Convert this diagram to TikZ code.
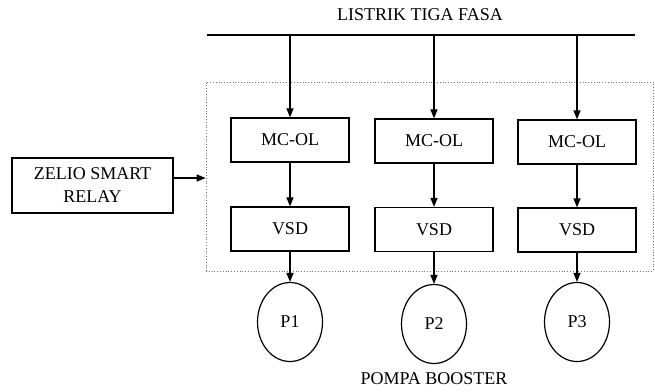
\documentclass[tikz,border=0pt]{standalone}
\usepackage{fontspec}
\setmainfont{Liberation Serif}
\usetikzlibrary{arrows.meta,shapes.geometric}
\newcommand\diagfont{\rmfamily\fontsize{18}{20}\selectfont}
\begin{document}
\begin{tikzpicture}[x=1pt,y=-1pt,
  lbl/.style={font=\diagfont, inner sep=0pt},
  blockbox/.style={draw, line width=1.3pt, minimum width=118pt, minimum height=44pt,
    font=\diagfont, inner sep=0pt, align=center},
  pump/.style={draw, ellipse, line width=1.2pt, minimum width=65pt, minimum height=79pt,
    font=\diagfont, inner sep=0pt},
  flow/.style={-{Triangle[length=9pt,width=7pt]}, line width=1.3pt},
  panelbox/.style={draw=black!55, dotted, line width=0.8pt, minimum width=447pt,
    minimum height=189pt, inner sep=0pt}]
\useasboundingbox (0,0) rectangle (655,391);

% three-phase supply bus
\node[lbl] (title) at (420,15) {LISTRIK TIGA FASA};
\coordinate (busL) at (207,35);
\coordinate (busR) at (635,35);
\draw[line width=1.5pt] (busL) -- (busR);

% control panel enclosure
\node[panelbox] (panel) at (429.5,176.5) {};

% starters and drives
\node[blockbox] (mc1) at (290,140) {MC-OL};
\node[blockbox] (mc2) at (434,141) {MC-OL};
\node[blockbox] (mc3) at (577,142) {MC-OL};
\node[blockbox] (vsd1) at (290,229) {VSD};
\node[blockbox] (vsd2) at (434,229.5) {VSD};
\node[blockbox] (vsd3) at (577,230) {VSD};

% pumps
\node[pump] (p1) at (290,322) {P1};
\node[pump] (p2) at (434,324) {P2};
\node[pump] (p3) at (577,322) {P3};
\node[lbl] (booster) at (434,379) {POMPA BOOSTER};

% controller
\node[blockbox, minimum width=161pt, minimum height=55pt] (zelio) at (92.5,185.5)
  {ZELIO SMART\\[3pt]RELAY};
\coordinate (zout) at (173,178);
\draw[flow] (zout) -- (zout -| panel.west);

% connections
\foreach \i in {1,2,3} {
  \draw[flow] (mc\i |- busL) -- (mc\i.north);
  \draw[flow] (mc\i.south) -- (vsd\i.north);
  \draw[flow] (vsd\i.south) -- (p\i.north);
}
\end{tikzpicture}
\end{document}
